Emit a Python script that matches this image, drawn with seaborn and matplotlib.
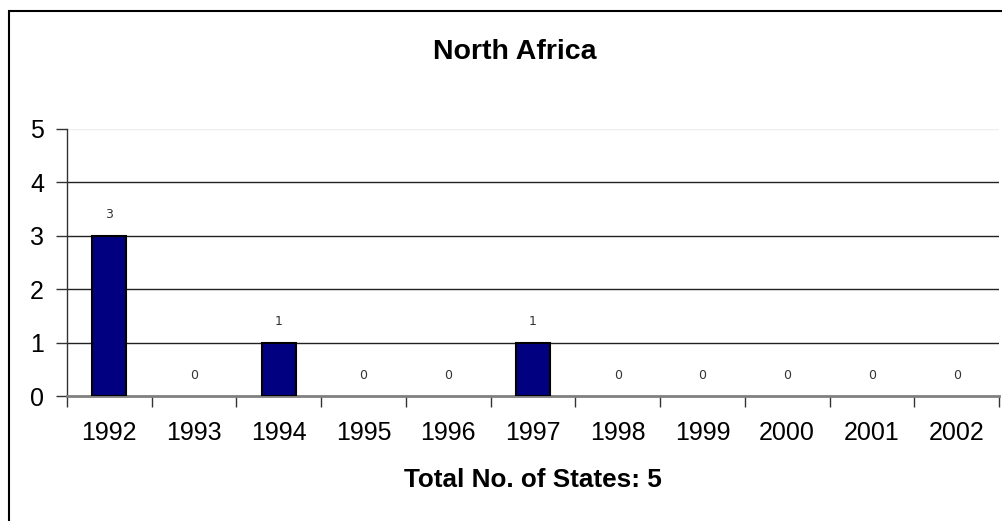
import matplotlib
matplotlib.use("Agg")
import matplotlib.pyplot as plt
from matplotlib.patches import Rectangle
import seaborn as sns
import pandas as pd

# Data
years = ["1992", "1993", "1994", "1995", "1996", "1997",
         "1998", "1999", "2000", "2001", "2002"]
states = [3, 0, 1, 0, 0, 1, 0, 0, 0, 0, 0]
title = "North Africa"
total_label = "Total No. of States: 5"

sns.set_theme(style="white")
plt.rcParams["font.family"] = ["Liberation Sans", "DejaVu Sans"]
plt.rcParams["text.color"] = "black"
plt.rcParams["xtick.color"] = "black"
plt.rcParams["ytick.color"] = "black"

df = pd.DataFrame({"year": years, "states": states})

fig = plt.figure(figsize=(10.02, 5.21), dpi=100)
ax = fig.add_axes([67 / 1002, 1 - 396 / 521, (999 - 67) / 1002, (396 - 129) / 521])

sns.barplot(data=df, x="year", y="states", order=years, color="#000080",
            saturation=1, width=0.4, edgecolor="black", linewidth=1.5,
            ax=ax, zorder=3)

# empty bars leave no outline
for p in ax.patches:
    if p.get_height() == 0:
        p.set_linewidth(0)

ax.set_xlim(-0.5, len(years) - 0.5)
ax.set_ylim(0, 5)

# horizontal gridlines
for v in range(1, 5):
    ax.axhline(v, color="#222222", lw=1.0, zorder=1)
ax.axhline(5, color="#eeeeee", lw=1.0, zorder=1)

# value labels above each bar
for i, v in enumerate(states):
    ax.annotate(str(v), (i, v), xytext=(0, 15), textcoords="offset points",
                ha="center", va="center", fontsize=9, color="#333333",
                family="DejaVu Sans")

# axes styling
for s in ["top", "right"]:
    ax.spines[s].set_visible(False)
ax.spines["left"].set_color("#333333")
ax.spines["left"].set_linewidth(1.0)
ax.spines["bottom"].set_color("#808080")
ax.spines["bottom"].set_linewidth(2.0)

ax.set_yticks(range(0, 6))
ax.set_yticklabels([str(v) for v in range(0, 6)], fontsize=18)
ax.tick_params(axis="y", direction="out", length=8, width=1, color="#333333",
               left=True, pad=8.5)

# x ticks sit between categories, labels centered under bars
ax.set_xticks([i - 0.5 for i in range(len(years) + 1)], minor=False)
ax.set_xticklabels([])
ax.set_xticks(range(len(years)), minor=True)
ax.set_xticklabels(years, minor=True, fontsize=18)
ax.tick_params(axis="x", which="major", direction="out", length=8, width=1,
               color="#333333", bottom=True)
ax.tick_params(axis="x", which="minor", length=0, pad=18, bottom=True)

ax.set_xlabel("")
ax.set_ylabel("")

fig.text(533 / 1002, 1 - 487 / 521, total_label, ha="center", va="baseline",
         fontsize=18.8, fontweight="bold")
fig.text(514.5 / 1002, 1 - 59 / 521, title, ha="center", va="baseline",
         fontsize=20.5, fontweight="bold")

# chart-area frame
fig.patches.append(Rectangle((9 / 1002, -0.1), 1.2, (510 / 521) + 0.1,
                             transform=fig.transFigure, fill=False,
                             edgecolor="black", lw=1.5))

fig.savefig("out.png", dpi=100)
